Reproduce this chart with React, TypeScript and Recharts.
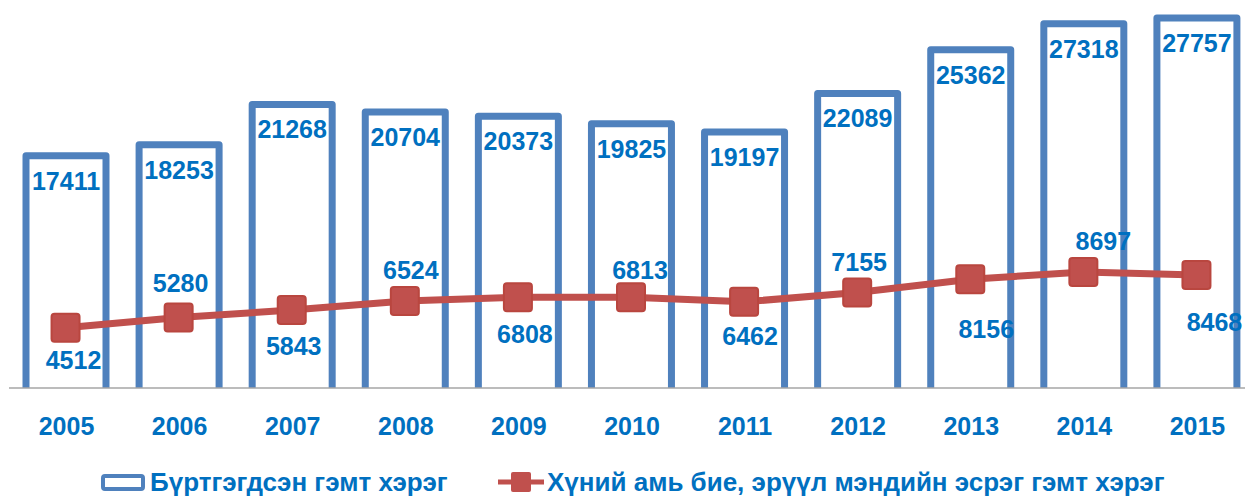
import React from 'react';
import { ComposedChart, Bar, Line, XAxis, YAxis, Legend, LabelList } from 'recharts';

const years = ['2005', '2006', '2007', '2008', '2009', '2010', '2011', '2012', '2013', '2014', '2015'];
const registeredCrimes = [17411, 18253, 21268, 20704, 20373, 19825, 19197, 22089, 25362, 27318, 27757];
const crimesAgainstPerson = [4512, 5280, 5843, 6524, 6808, 6813, 6462, 7155, 8156, 8697, 8468];

const barName = 'Бүртгэгдсэн гэмт хэрэг';
const lineName = 'Хүний амь бие, эрүүл мэндийн эсрэг гэмт хэрэг';

// label placement around each line point (dx, dy to text centre), as hand-placed in the original
const lineLabelShift: [number, number][] = [
  [8, 32], [2, -35], [2, 36], [6, -31], [7, 37], [9, -27],
  [6, 34], [2, -31], [16, 50], [20, -31], [18, 47],
];

const data = years.map((year, i) => ({
  year,
  registered: registeredCrimes[i],
  person: crimesAgainstPerson[i],
}));

const BLUE = '#4F81BD';
const RED = '#C0504D';
const TEXT = '#0070C0';
const FONT = '"Liberation Sans", Arial, sans-serif';

const OpenBar = (props: any) => {
  const { x, y, width, height } = props;
  const d = `M${x},${y + height} L${x},${y} L${x + width},${y} L${x + width},${y + height}`;
  return <path d={d} fill="#fff" stroke={BLUE} strokeWidth={7} strokeLinejoin="round" />;
};

const SquareDot = (props: any) => {
  const { cx, cy, index } = props;
  return (
    <rect key={`dot-${index}`} x={cx - 14} y={cy - 14} width={28} height={28} rx={3}
      fill={RED} stroke="#B9463F" strokeWidth={2} />
  );
};

const BarLabel = (props: any) => {
  const { x, y, width, value } = props;
  return (
    <text x={x + width / 2} y={y + 34} textAnchor="middle" fill={TEXT}
      fontFamily={FONT} fontWeight="bold" fontSize={25}>
      {value}
    </text>
  );
};

const LineLabel = (props: any) => {
  const { x, y, value } = props;
  const i = crimesAgainstPerson.indexOf(value);
  const [dx, dy] = lineLabelShift[i] || [0, 0];
  return (
    <text x={x + dx} y={y + dy + 9} textAnchor="middle" fill={TEXT}
      fontFamily={FONT} fontWeight="bold" fontSize={25}>
      {value}
    </text>
  );
};

const YearTick = (props: any) => {
  const { x, y, payload } = props;
  return (
    <text x={x + 1} y={y + 47} textAnchor="middle" fill={TEXT}
      fontFamily={FONT} fontWeight="bold" fontSize={25}>
      {payload.value}
    </text>
  );
};

const LegendBox = () => (
  <div style={{ height: 40, position: 'relative', fontFamily: FONT, fontWeight: 'bold', fontSize: 26, color: TEXT }}>
    <div style={{ position: 'absolute', left: 92, top: 14, display: 'flex', alignItems: 'center', height: 24, whiteSpace: 'nowrap' }}>
      <svg width={44} height={17} style={{ marginRight: 5 }}>
        <rect x={2} y={2} width={40} height={13} rx={2} fill="#fff" stroke={BLUE} strokeWidth={4} />
      </svg>
      <span>{barName}</span>
    </div>
    <div style={{ position: 'absolute', left: 489, top: 14, display: 'flex', alignItems: 'center', height: 24, whiteSpace: 'nowrap' }}>
      <svg width={46} height={24} style={{ marginRight: 3 }}>
        <line x1={0} y1={12} x2={46} y2={12} stroke={RED} strokeWidth={5} />
        <rect x={13} y={2} width={20} height={20} rx={2} fill={RED} />
      </svg>
      <span>{lineName}</span>
    </div>
  </div>
);

export default function App() {
  return (
    <div style={{ position: 'fixed', left: 0, top: 0, width: 1245, height: 496, overflow: 'hidden', background: '#fff' }}>
      <ComposedChart width={1262} height={496} data={data} margin={{ top: 0, right: 9, bottom: 0, left: 9 }}>
        <XAxis dataKey="year" height={68} tickLine={false} tickSize={0} tickMargin={0}
          axisLine={{ stroke: '#A6A6A6', strokeWidth: 1.5 }} tick={<YearTick />} interval={0} />
        <YAxis hide domain={[0, 29100]} />
        <Legend verticalAlign="bottom" height={40} content={<LegendBox />} />
        <Bar dataKey="registered" name={barName} barSize={80} shape={<OpenBar />} isAnimationActive={false}>
          <LabelList dataKey="registered" content={<BarLabel />} />
        </Bar>
        <Line dataKey="person" name={lineName} stroke={RED} strokeWidth={7} dot={<SquareDot />}
          activeDot={false} isAnimationActive={false}>
          <LabelList dataKey="person" content={<LineLabel />} />
        </Line>
      </ComposedChart>
    </div>
  );
}
